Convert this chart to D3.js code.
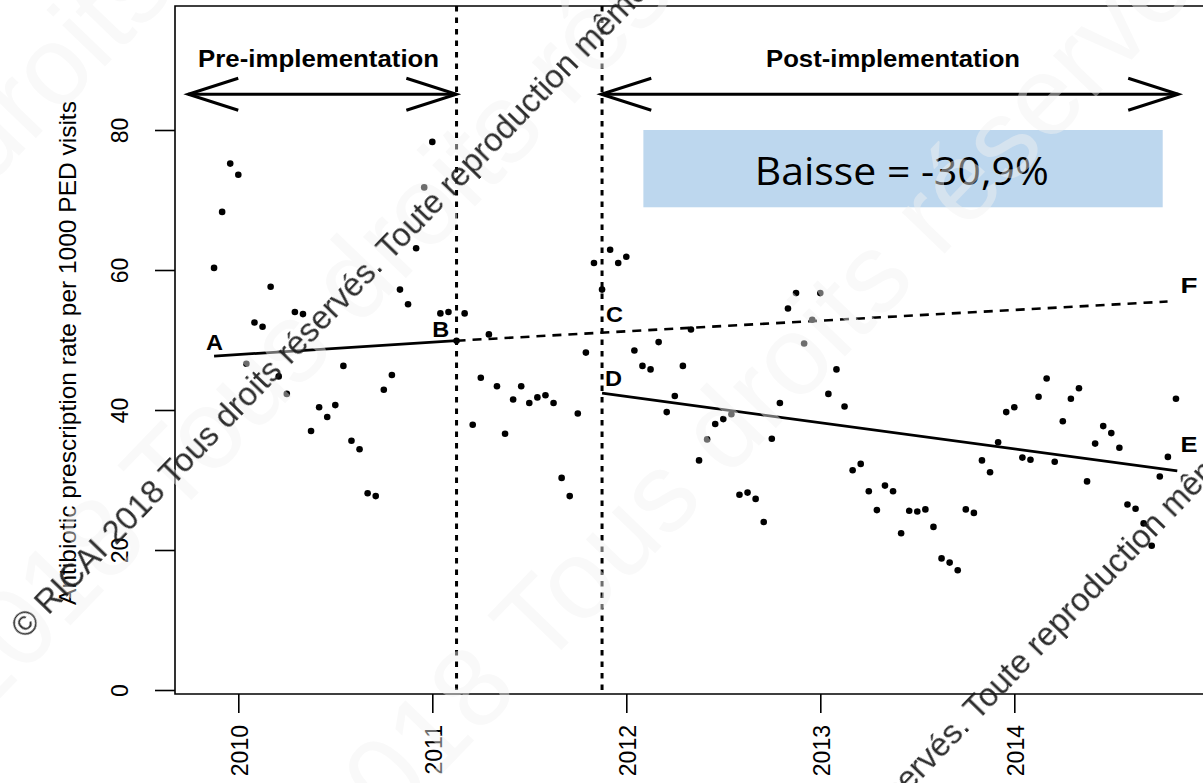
<!DOCTYPE html>
<html>
<head>
<meta charset="utf-8">
<script src="https://cdn.jsdelivr.net/npm/d3@7"></script>
<style>
  body { margin: 0; background: #fff; }
  svg { display: block; }
  text { font-family: "Liberation Sans", Arial, sans-serif; }
</style>
</head>
<body>
<div id="chart"></div>
<script>
// semi-monthly antibiotic prescription rates (per 1000 PED visits)
const startYear = 2009.875;
const stepYear = 1 / 24;
const rates = [
  60.3, 68.3, 75.2, 73.6, 46.6, 52.5, 51.9, 57.6, 44.8, 42.3,
  54.0, 53.7, 37.0, 40.4, 39.0, 40.7, 46.3, 35.6, 34.4, 28.1,
  27.7, 42.9, 45.0, 57.2, 55.1, 63.1, 71.8, 78.3, 53.8, 54.0,
  49.9, 53.8, 37.9, 44.6, 50.8, 43.4, 36.6, 41.5, 43.4, 41.0,
  41.8, 42.1, 41.0, 30.3, 27.7, 39.5, 48.2, 61.0, 57.2, 62.9,
  61.0, 61.9, 48.5, 46.3, 45.8, 49.7, 39.7, 42.0, 46.3, 51.5,
  32.8, 35.8, 38.0, 38.7, 39.4, 27.9, 28.2, 27.3, 24.0, 35.9,
  41.0, 54.5, 56.7, 49.5, 52.9, 56.7, 42.3, 45.8, 40.5, 31.4,
  32.3, 28.4, 25.7, 29.2, 28.4, 22.4, 25.6, 25.5, 25.8, 23.3,
  18.8, 18.2, 17.1, 25.8, 25.3, 32.8, 31.1, 35.4, 39.7, 40.4,
  33.2, 32.9, 41.9, 44.5, 32.6, 38.4, 41.6, 43.1, 29.8, 35.2,
  37.7, 36.7, 34.6, 26.5, 25.9, 23.8, 20.6, 30.5, 33.3, 41.6
];
const xTicks = [2010, 2011, 2012, 2013, 2014];
const yTicks = [0, 20, 40, 60, 80];
const phaseBounds = [2011.125, 2011.875];

// segmented regression lines
const preTrend = [[2009.875, 47.7], [2011.125, 49.9]];
const counterfactual = [[2011.125, 49.9], [2014.79, 55.5]];
const postTrend = [[2011.875, 42.4], [2014.84, 31.3]];

const phases = [
  { label: "Pre-implementation", from: 2009.742, to: 2011.124, mid: 2010.414 },
  { label: "Post-implementation", from: 2011.871, to: 2014.845, mid: 2013.375 }
];
const pointLabels = [
  { t: "A", x: 2009.833, y: 48.6 },
  { t: "B", x: 2011.0, y: 50.4 },
  { t: "C", x: 2011.896, y: 52.6 },
  { t: "D", x: 2011.89, y: 43.4 },
  { t: "E", x: 2014.857, y: 34.0 },
  { t: "F", x: 2014.857, y: 56.7 }
];
const resultText = "Baisse = -30,9%";
const yTitle = "Antibiotic prescription rate per 1000 PED visits";
const watermark = "© RICAI 2018 Tous droits réservés. Toute reproduction même partielle interdite";

const width = 1203, height = 783;
const box = { left: 175, top: 6, bottom: 694, right: 1240 };

const x = d3.scaleLinear().domain([2010, 2014]).range([238.3, 1014.3]);
const y = d3.scaleLinear().domain([0, 80]).range([690, 130]);

const svg = d3.select("#chart").append("svg")
    .attr("width", width)
    .attr("height", height);

svg.append("rect").attr("width", width).attr("height", height).attr("fill", "#fff");

// result box
svg.append("rect")
    .attr("x", x(2012.088))
    .attr("y", y(80))
    .attr("width", x(2014.765) - x(2012.088))
    .attr("height", y(68.96) - y(80))
    .attr("fill", "#bdd7ee");

svg.append("text")
    .attr("x", x(2013.42))
    .attr("y", y(72.2))
    .attr("text-anchor", "middle")
    .style("font-family", "'Open Sans', sans-serif")
    .style("font-size", "38px")
    .attr("textLength", 294)
    .attr("lengthAdjust", "spacingAndGlyphs")
    .attr("fill", "#000")
    .text(resultText);

// plot frame
svg.append("path")
    .attr("d", `M${box.right},${box.top}H${box.left}V${box.bottom}H${box.right}`)
    .attr("fill", "none")
    .attr("stroke", "#000")
    .attr("stroke-width", 1.6);

// axes
const yAxis = svg.append("g")
    .attr("transform", `translate(${box.left},0)`)
    .call(d3.axisLeft(y).tickValues(yTicks).tickSize(20).tickFormat(d3.format("d")));
yAxis.select(".domain").remove();
yAxis.selectAll(".tick line").attr("stroke-width", 1.6);
yAxis.selectAll(".tick text")
    .attr("transform", "rotate(-90)")
    .attr("x", 0).attr("y", -47).attr("dy", 0)
    .attr("text-anchor", "middle")
    .style("font-family", "'Liberation Sans', Arial, sans-serif")
    .style("font-size", "23px")
    .attr("fill", "#000");

const xAxis = svg.append("g")
    .attr("transform", `translate(0,${box.bottom})`)
    .call(d3.axisBottom(x).tickValues(xTicks).tickSize(19).tickFormat(d3.format("d")));
xAxis.select(".domain").remove();
xAxis.selectAll(".tick line").attr("stroke-width", 1.6);
xAxis.selectAll(".tick text")
    .attr("transform", "rotate(-90)")
    .attr("x", -31).attr("y", 9.5).attr("dy", 0)
    .attr("text-anchor", "end")
    .style("font-family", "'Liberation Sans', Arial, sans-serif")
    .style("font-size", "23px")
    .attr("fill", "#000");

svg.append("text")
    .attr("transform", `translate(76,${(box.top + box.bottom) / 2 + 3}) rotate(-90)`)
    .attr("text-anchor", "middle")
    .style("font-size", "24.5px")
    .attr("fill", "#000")
    .text(yTitle);

// phase boundaries
svg.append("g").selectAll("line")
    .data(phaseBounds)
    .join("line")
    .attr("x1", d => x(d)).attr("x2", d => x(d))
    .attr("y1", box.top).attr("y2", box.bottom)
    .attr("stroke", "#000")
    .attr("stroke-width", 3)
    .attr("stroke-dasharray", "5.5,6");

// phase arrows
const arrowY = y(85.1);
const headDx = 50, headDy = 16;
const arrows = svg.append("g").attr("fill", "none").attr("stroke", "#000").attr("stroke-width", 3);
phases.forEach(p => {
  const x0 = x(p.from), x1 = x(p.to);
  arrows.append("path").attr("d", `M${x0},${arrowY}H${x1}`);
  arrows.append("path").attr("d", `M${x0 + headDx},${arrowY - headDy}L${x0},${arrowY}L${x0 + headDx},${arrowY + headDy}`);
  arrows.append("path").attr("d", `M${x1 - headDx},${arrowY - headDy}L${x1},${arrowY}L${x1 - headDx},${arrowY + headDy}`);
});
svg.append("g").selectAll("text")
    .data(phases)
    .join("text")
    .attr("x", d => x(d.mid))
    .attr("y", y(89))
    .attr("text-anchor", "middle")
    .style("font-size", "23px")
    .style("font-weight", "bold")
    .attr("textLength", (d, i) => i === 0 ? 241 : 254)
    .attr("lengthAdjust", "spacingAndGlyphs")
    .text(d => d.label);

// points
svg.append("g").selectAll("circle")
    .data(rates)
    .join("circle")
    .attr("cx", (d, i) => x(startYear + i * stepYear))
    .attr("cy", d => y(d))
    .attr("r", 3.3)
    .attr("fill", "#000");

// regression lines
const line = d3.line().x(d => x(d[0])).y(d => y(d[1]));
svg.append("path").datum(preTrend).attr("d", line)
    .attr("fill", "none").attr("stroke", "#000").attr("stroke-width", 2.8);
svg.append("path").datum(postTrend).attr("d", line)
    .attr("fill", "none").attr("stroke", "#000").attr("stroke-width", 2.8);
svg.append("path").datum(counterfactual).attr("d", line)
    .attr("fill", "none").attr("stroke", "#000").attr("stroke-width", 2.6)
    .attr("stroke-dasharray", "9,7");

svg.append("g").selectAll("text")
    .data(pointLabels)
    .join("text")
    .attr("x", d => x(d.x))
    .attr("y", d => y(d.y))
    .style("font-size", "22px")
    .style("font-weight", "bold")
    .attr("textLength", 17)
    .attr("lengthAdjust", "spacingAndGlyphs")
    .text(d => d.t);

// watermarks
const wmAngle = -46;
const faint = svg.append("g")
    .style("font-family", "'Open Sans', sans-serif")
    .style("font-size", "112px")
    .attr("fill", "rgb(242,242,242)")
    .attr("opacity", 0.45);
[[-330, 1040], [40, 1190], [-700, 900]].forEach(([px, py]) => {
  faint.append("text")
      .attr("transform", `translate(${px},${py}) rotate(${wmAngle})`)
      .text(watermark);
});

const dark = svg.append("g")
    .style("font-family", "'Open Sans', sans-serif")
    .style("font-size", "33px")
    .attr("fill", "#1a1a1a")
    .attr("opacity", 0.92);
[[25, 640], [612, 1100]].forEach(([px, py]) => {
  dark.append("text")
      .attr("transform", `translate(${px},${py}) rotate(${wmAngle})`)
      .text(watermark);
});
</script>
</body>
</html>
